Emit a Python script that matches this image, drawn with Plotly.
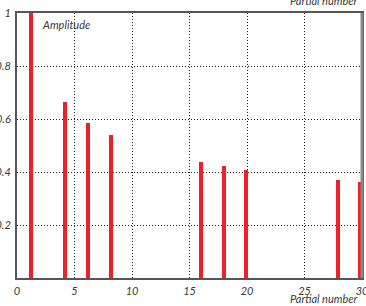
import plotly.graph_objects as go

partials = [1.2, 4.2, 6.2, 8.15, 16.0, 18.0, 19.95, 27.9, 29.85]
amplitudes = [1.0, 0.664, 0.586, 0.54, 0.438, 0.424, 0.409, 0.37, 0.362]
x_ticks = [0, 5, 10, 15, 20, 25, 30]
y_ticks = [0.2, 0.4, 0.6, 0.8, 1]
y_tick_labels = ["0.2", "0.4", "0.6", "0.8", "1"]

RED = "#ee2029"
TXT = "#3a3a3a"
FAM = "Lato"
TICKFONT = dict(family=FAM, size=11, color=TXT, style="italic")

fig = go.Figure()
fig.add_trace(go.Bar(x=partials, y=amplitudes, width=0.36,
                     marker=dict(color=RED, line=dict(width=0)), hoverinfo="skip"))

fig.update_layout(
    width=366, height=306,
    margin=dict(l=17, r=4, t=13, b=28, autoexpand=False),
    paper_bgcolor="white", plot_bgcolor="white",
    showlegend=False, bargap=0,
    font=dict(family=FAM, size=11, color=TXT),
)
common = dict(showgrid=True, gridcolor="#222222", griddash="1px,2px", gridwidth=1,
              showline=True, linecolor="#555555", linewidth=2, mirror=True,
              ticks="", zeroline=False, tickfont=TICKFONT, automargin=False,
              ticklabeloverflow="allow")
fig.update_xaxes(range=[0, 30], tickvals=x_ticks, ticktext=[str(v) for v in x_ticks],
                 ticklabelstandoff=2, **common)
fig.update_yaxes(range=[0, 1], tickvals=y_ticks, ticktext=y_tick_labels,
                 ticklabelstandoff=2, **common)

# thicker gray right border
fig.add_shape(type="line", xref="paper", yref="paper", x0=1, x1=1, y0=0, y1=1,
              line=dict(color="#888888", width=3))

fig.add_annotation(text="<i>Amplitude</i>", xref="x", yref="y", x=2.0, y=0.955,
                   xanchor="left", yanchor="middle", showarrow=False,
                   font=dict(family=FAM, size=11, color=TXT))
fig.add_annotation(text="<i>Partial number</i>", xref="paper", yref="paper", x=1, y=0,
                   xanchor="right", yanchor="middle", yshift=-20, xshift=-2, showarrow=False,
                   font=dict(family=FAM, size=11, color=TXT))
fig.add_annotation(text="<i>Partial number</i>", xref="paper", yref="paper", x=1, y=1,
                   xanchor="right", yanchor="middle", yshift=13, xshift=-2, showarrow=False,
                   font=dict(family=FAM, size=11, color=TXT))

fig.write_html("out.html", config={"displayModeBar": False},
               post_script="document.body.style.margin='0';")
